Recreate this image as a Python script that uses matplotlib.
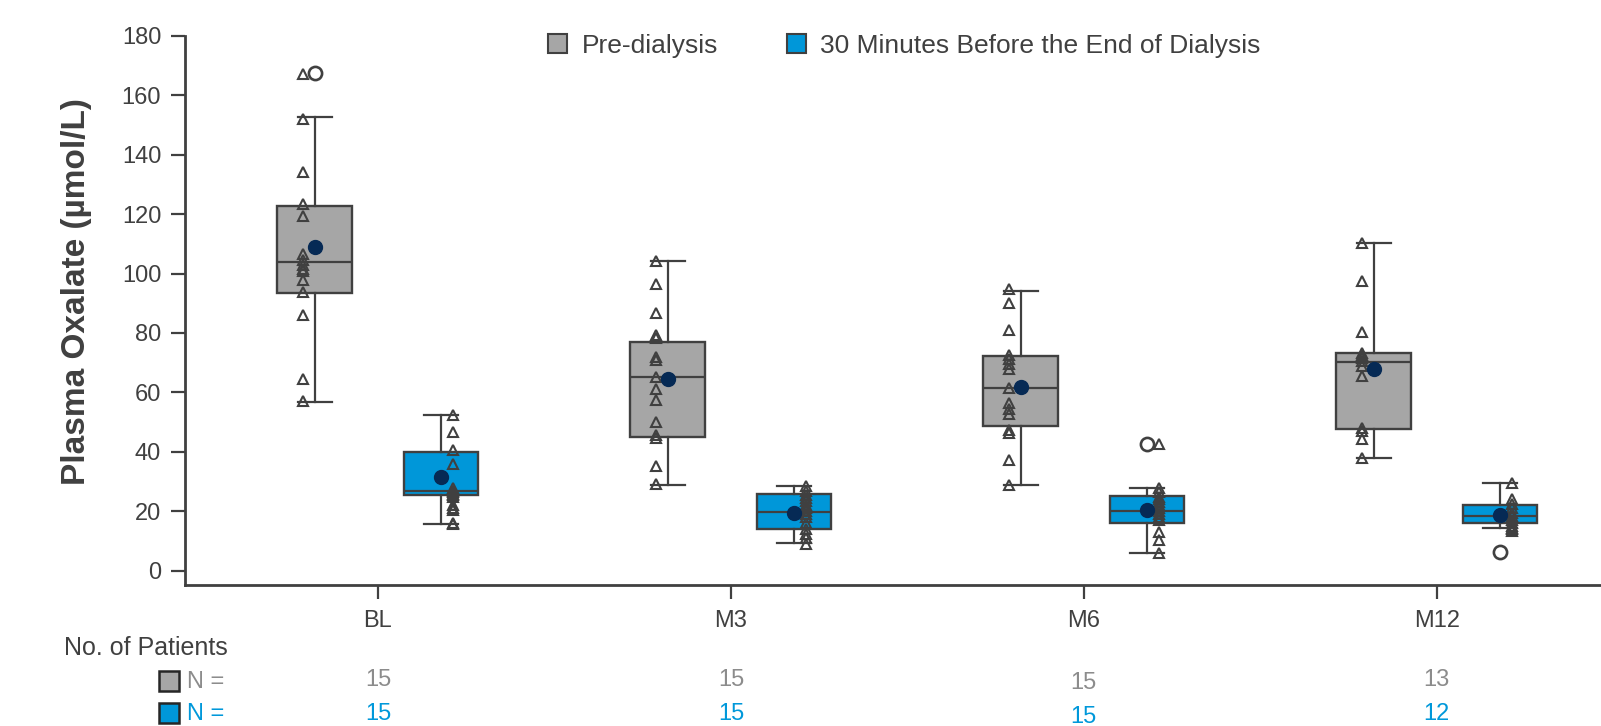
import matplotlib
matplotlib.use("Agg")
import matplotlib.pyplot as plt
from matplotlib.patches import Patch, Rectangle
from matplotlib.transforms import blended_transform_factory
import numpy as np

# ---------------- data ----------------
categories = ["BL", "M3", "M6", "M12"]

pre_q1 = [93.3, 45.1, 48.8, 47.6]
pre_med = [104.0, 65.2, 61.4, 70.1]
pre_q3 = [122.8, 77.1, 72.4, 73.2]
pre_whislo = [56.7, 28.9, 28.9, 38.0]
pre_whishi = [152.5, 104.2, 94.2, 110.2]
pre_mean = [108.8, 64.4, 61.7, 67.9]
pre_fliers = [[167.3], [], [], []]

post_q1 = [25.4, 14.0, 16.0, 16.0]
post_med = [26.9, 19.7, 20.1, 18.5]
post_q3 = [40.1, 25.7, 25.2, 22.1]
post_whislo = [15.6, 9.5, 6.1, 14.3]
post_whishi = [52.4, 28.6, 27.7, 29.6]
post_mean = [31.6, 19.5, 20.6, 18.8]
post_fliers = [[], [], [42.6], [6.2]]

pre_points = [
    [167.0, 152.0, 134.0, 123.4, 119.4, 106.5, 104.5, 103.0, 101.6, 100.9, 97.8, 93.7, 85.9, 64.6, 57.0],
    [104.2, 96.4, 86.8, 79.3, 78.4, 72.0, 70.9, 65.3, 61.0, 57.4, 50.2, 45.7, 44.6, 35.4, 29.1],
    [94.7, 90.0, 81.0, 72.6, 71.1, 69.6, 67.8, 61.4, 56.3, 54.6, 52.7, 47.4, 46.5, 37.3, 28.9],
    [110.4, 97.5, 80.2, 73.4, 72.5, 71.5, 70.5, 69.0, 65.5, 48.0, 47.1, 44.2, 38.0],
]
post_points = [
    [52.4, 46.8, 40.6, 35.8, 28.0, 27.0, 26.5, 26.0, 25.5, 25.0, 22.1, 21.0, 20.3, 16.0, 15.6],
    [28.5, 27.0, 25.5, 24.5, 23.5, 22.0, 21.0, 20.0, 19.0, 18.0, 16.0, 14.0, 12.5, 11.0, 9.0],
    [42.5, 28.0, 26.5, 25.0, 24.0, 23.0, 22.0, 21.0, 20.0, 19.0, 18.0, 17.0, 13.0, 10.5, 6.0],
    [29.5, 24.0, 22.5, 21.0, 19.5, 18.5, 17.0, 16.0, 15.0, 14.5, 14.0, 13.5],
]

n_pre = [15, 15, 15, 13]
n_post = [15, 15, 15, 12]

series_labels = ["Pre-dialysis", "30 Minutes Before the End of Dialysis"]
y_label = "Plasma Oxalate (\u00b5mol/L)"
y_ticks = [0, 20, 40, 60, 80, 100, 120, 140, 160, 180]

# ---------------- style ----------------
GRAY = "#A6A6A6"
BLUE = "#0097D9"
EDGE = "#404040"
NAVY = "#062A55"
GRAY_TXT = "#8C8C8C"
BLUE_TXT = "#0098DA"
NARROW = ["Liberation Sans Narrow", "Liberation Sans", "DejaVu Sans"]
SANS = ["Liberation Sans", "DejaVu Sans"]

W, H = 1601, 726
fig = plt.figure(figsize=(W / 100, H / 100), dpi=100)
ax = fig.add_axes([184.8 / W, 1 - 585.1 / H, 1 - 184.8 / W, (585.1 - 35.7) / H])

pos = np.arange(len(categories))
off = 0.179
bw = 0.211
capw = 0.096
tri_off = 0.034


def stats(q1, med, q3, lo, hi, mean, fl):
    return [dict(q1=q1[i], med=med[i], q3=q3[i], whislo=lo[i], whishi=hi[i],
                 mean=mean[i], fliers=fl[i]) for i in range(len(q1))]


for st, p, col in [
    (stats(pre_q1, pre_med, pre_q3, pre_whislo, pre_whishi, pre_mean, pre_fliers), pos - off, GRAY),
    (stats(post_q1, post_med, post_q3, post_whislo, post_whishi, post_mean, post_fliers), pos + off, BLUE),
]:
    ax.bxp(st, positions=p, widths=bw, capwidths=capw, patch_artist=True,
           showmeans=True, showfliers=True, manage_ticks=False,
           boxprops=dict(facecolor=col, edgecolor=EDGE, linewidth=1.7),
           whiskerprops=dict(color=EDGE, linewidth=1.6),
           capprops=dict(color=EDGE, linewidth=1.6),
           medianprops=dict(color=EDGE, linewidth=1.6),
           meanprops=dict(marker="o", markerfacecolor=NAVY, markeredgecolor=NAVY,
                          markersize=10, zorder=6),
           flierprops=dict(marker="o", markerfacecolor="white", markeredgecolor=EDGE,
                           markersize=9.5, markeredgewidth=1.9))

for i in range(len(categories)):
    ax.plot(np.full(len(pre_points[i]), pos[i] - off - tri_off), pre_points[i], linestyle="none",
            marker="^", markersize=7, markerfacecolor="none", markeredgecolor=EDGE,
            markeredgewidth=1.5, zorder=5)
    ax.plot(np.full(len(post_points[i]), pos[i] + off + tri_off), post_points[i], linestyle="none",
            marker="^", markersize=7, markerfacecolor="none", markeredgecolor=EDGE,
            markeredgewidth=1.5, zorder=5)

ax.set_xlim(-0.547, 3.465)
ax.set_ylim(-4.8, 180)
ax.set_xticks(pos)
ax.set_xticklabels(categories)
ax.set_yticks(y_ticks)
for sp in ["top", "right"]:
    ax.spines[sp].set_visible(False)
for sp in ["left", "bottom"]:
    ax.spines[sp].set_color(EDGE)
    ax.spines[sp].set_linewidth(2.0)
ax.spines["left"].set_bounds(0 - 4.8, 180)
ax.tick_params(axis="both", colors=EDGE, length=10, width=1.6, pad=7,
               labelsize=17, labelcolor=EDGE)
ax.tick_params(axis="x", pad=8)
for lab in ax.get_xticklabels() + ax.get_yticklabels():
    lab.set_family(NARROW)

ax.set_ylabel(y_label, fontsize=24, fontweight="bold", color=EDGE, family=SANS)
ax.yaxis.set_label_coords(-0.0656, 0.535)

handles = [Patch(facecolor=GRAY, edgecolor=EDGE, linewidth=1.5),
           Patch(facecolor=BLUE, edgecolor=EDGE, linewidth=1.5)]
fig.legend(handles, series_labels, loc="upper left",
           bbox_to_anchor=(548 / W, 1 - 34 / H), ncol=2, frameon=False,
           prop=dict(family=SANS, size=19), labelcolor=EDGE,
           handlelength=0.72, handleheight=0.72, handletextpad=0.55,
           columnspacing=2.6, borderpad=0, borderaxespad=0)

# ---------------- patients table ----------------
fig.text(64 / W, 1 - 648 / H, "No. of Patients", family=NARROW, fontsize=18,
         color=EDGE, ha="left", va="center")
for row_y, fc, tc in [(681, GRAY, GRAY_TXT), (713, BLUE, BLUE_TXT)]:
    fig.add_artist(Rectangle((159 / W, 1 - (row_y + 10) / H), 20 / W, 20 / H,
                             transform=fig.transFigure, facecolor=fc,
                             edgecolor="#262626", linewidth=1.8))
    fig.text(187 / W, 1 - (row_y + 1) / H, "N =", family=NARROW, fontsize=17,
             color=tc, ha="left", va="center")

trans = blended_transform_factory(ax.transData, fig.transFigure)
n_dy = [0, 0, 3, 0]
for i in range(len(categories)):
    ax.text(pos[i], 1 - (680 + n_dy[i]) / H, str(n_pre[i]), transform=trans,
            family=NARROW, fontsize=17, color=GRAY_TXT, ha="center", va="center")
    ax.text(pos[i], 1 - (714 + n_dy[i]) / H, str(n_post[i]), transform=trans,
            family=NARROW, fontsize=17, color=BLUE_TXT, ha="center", va="center")

fig.savefig("out.png", dpi=100)
